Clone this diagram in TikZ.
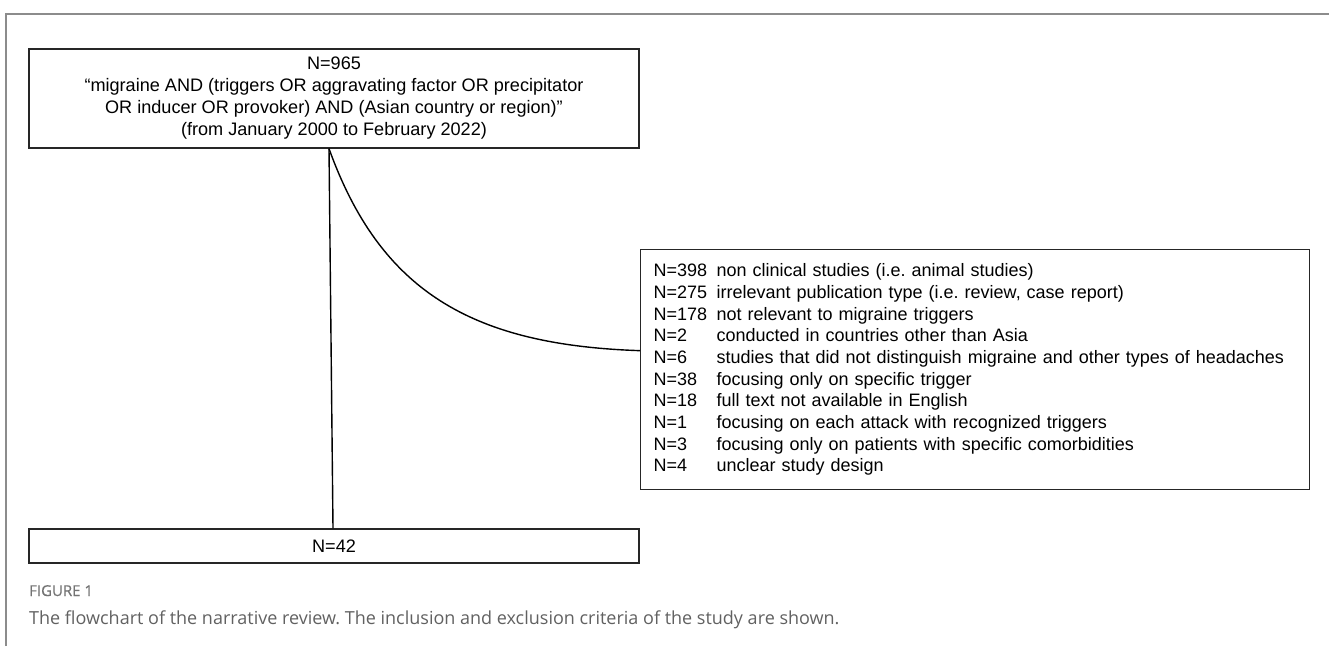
\documentclass[tikz,border=0pt]{standalone}
\usepackage{fontspec}
\setmainfont{Liberation Sans}
\newfontfamily\capfont{Open Sans}
\newfontfamily\capboldfont{Open Sans}[FakeBold=0.6]
\newcommand\exrow[2]{\makebox[63pt][l]{#1}#2}
\frenchspacing
\begin{document}
\begin{tikzpicture}[x=1pt,y=-1pt,
  box/.style={draw=black!85, line width=1.3pt, inner sep=0pt},
  link/.style={draw=black, line width=1.4pt},
  frame/.style={draw=black!45, line width=2pt},
  boxfont/.style={font=\fontsize{18.1}{22}\selectfont}]
\useasboundingbox (0,0) rectangle (1329,646);
\draw[frame] (6,646) -- (6,14) -- (1329,14);
\node[box, boxfont, minimum width=610pt, minimum height=99pt, align=center] (top) at (334,98.5)
  {N=965\\“migraine AND (triggers OR aggravating factor OR precipitator\\OR inducer OR provoker) AND (Asian country or region)”\\(from January 2000 to February 2022)};
\node[box, boxfont, minimum width=610pt, minimum height=34pt] (bot) at (334,546) {N=42};
\node[box, font=\fontsize{18}{21.7}\selectfont, anchor=north west, text width=643pt, inner xsep=13pt, minimum height=240pt, align=left] (excl) at (640,249)
  {\exrow{N=398}{non clinical studies (i.e. animal studies)}\\
   \exrow{N=275}{irrelevant publication type (i.e. review, case report)}\\
   \exrow{N=178}{not relevant to migraine triggers}\\
   \exrow{N=2}{conducted in countries other than Asia}\\
   \exrow{N=6}{studies that did not distinguish migraine and other types of headaches}\\
   \exrow{N=38}{focusing only on specific trigger}\\
   \exrow{N=18}{full text not available in English}\\
   \exrow{N=1}{focusing on each attack with recognized triggers}\\
   \exrow{N=3}{focusing only on patients with specific comorbidities}\\
   \exrow{N=4}{unclear study design}};
\coordinate (split) at ([xshift=-5pt]top.south);
\draw[link] (split) -- ([xshift=-1pt]bot.north);
\draw[link] (split) .. controls (380,290) and (470,345) .. ([yshift=19pt]excl.west);
\node[anchor=base west, inner sep=0pt, text=black!55, font=\capboldfont\fontsize{15}{17}\selectfont] (figlabel) at (29,596) {FIGURE 1};
\node[anchor=base west, inner sep=0pt, text=black!62, font=\capfont\fontsize{18}{21}\selectfont] (caption) at (29,624) {The flowchart of the narrative review. The inclusion and exclusion criteria of the study are shown.};
\end{tikzpicture}
\end{document}
